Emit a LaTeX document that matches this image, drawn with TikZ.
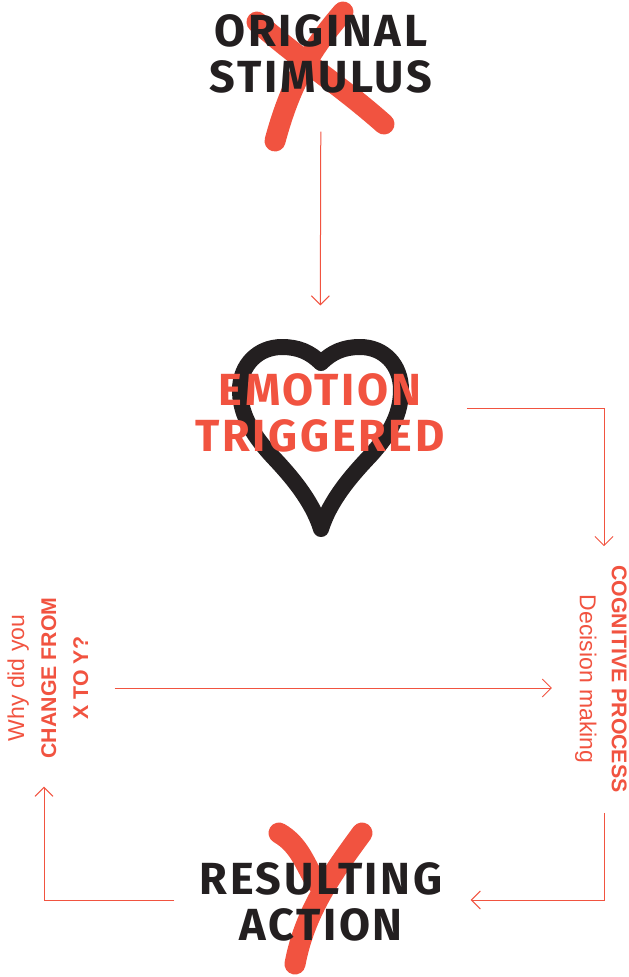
\documentclass[tikz,border=0pt]{standalone}
\usepackage{fontspec}
\setmainfont{Liberation Sans}
\newfontfamily\headfont[LetterSpace=6]{Fira Sans}
\usetikzlibrary{arrows.meta}
\definecolor{redink}{HTML}{F15340}
\definecolor{darkink}{HTML}{231F20}
\tikzset{
  title/.style={font=\headfont\fontsize{45}{46}\selectfont\bfseries, align=center, inner sep=0pt},
  side/.style={font=\fontsize{23}{32}\selectfont, text=redink, align=center, inner sep=0pt},
  flow/.style={-{Straight Barb[length=9pt,width=18pt]}, redink, line width=1pt},
  stroke/.style={redink, line width=21pt, line cap=round},
  heart/.style={darkink, line width=16pt, line cap=round, line join=round}
}
\newcommand{\hd}[1]{{\fontsize{21.3}{32}\selectfont\bfseries #1}}
\begin{document}
\begin{tikzpicture}[x=1pt,y=-1pt]
  \useasboundingbox (0,0) rectangle (629,977);
  % X
  \draw[stroke] (257,22) .. controls (300,60) and (340,85) .. (384,124);
  \draw[stroke] (343,12) .. controls (310,50) and (290,85) .. (275,141);
  % heart
  \draw[heart] (321,529) .. controls (312,500) and (290,475) .. (272,456)
    .. controls (250,432) and (240,412) .. (240,390)
    .. controls (240,365) and (258,347) .. (282,347)
    .. controls (298,347) and (310,352) .. (321,363)
    .. controls (332,352) and (344,347) .. (360,347)
    .. controls (384,347) and (401,365) .. (401,390)
    .. controls (401,412) and (392,432) .. (370,456)
    .. controls (352,475) and (330,500) .. (321,529);
  % Y
  \draw[stroke] (279,833) .. controls (300,845) and (305,865) .. (316,882);
  \draw[stroke] (362,833) .. controls (335,870) and (305,910) .. (295,964);
  % labels
  \node[title, text=darkink] (stimulus) at (321,54) {ORIGINAL\\STIMULUS};
  \node[title, text=redink] (emotion) at (320,413) {EMOTION\\TRIGGERED};
  \node[title, text=darkink] (action) at (321,902) {RESULTING\\ACTION};
  \node[side, rotate=90] (change) at (48,678) {Why did you\\\hd{CHANGE FROM}\\\hd{X TO Y?}};
  \node[side, rotate=-90] (cognitive) at (601,679) {\hd{COGNITIVE PROCESS}\\Decision making};
  % arrows
  \draw[flow, shorten <=38pt, shorten >=68pt] (stimulus) -- (emotion);
  \draw[flow, shorten <=22pt, shorten >=19pt] ([yshift=5pt]emotion.east) -| ([xshift=3pt]cognitive.west);
  \draw[flow, shorten <=26pt, shorten >=23pt] (change.south |- 0,688) -- (cognitive.south |- 0,688);
  \draw[flow, shorten <=20pt, shorten >=28pt] ([xshift=3pt]cognitive.east) |- ([yshift=2pt]action.east);
  \draw[flow, shorten <=25pt, shorten >=28pt] ([yshift=2pt]action.west) -| ([xshift=-4pt]change.west);
\end{tikzpicture}
\end{document}
